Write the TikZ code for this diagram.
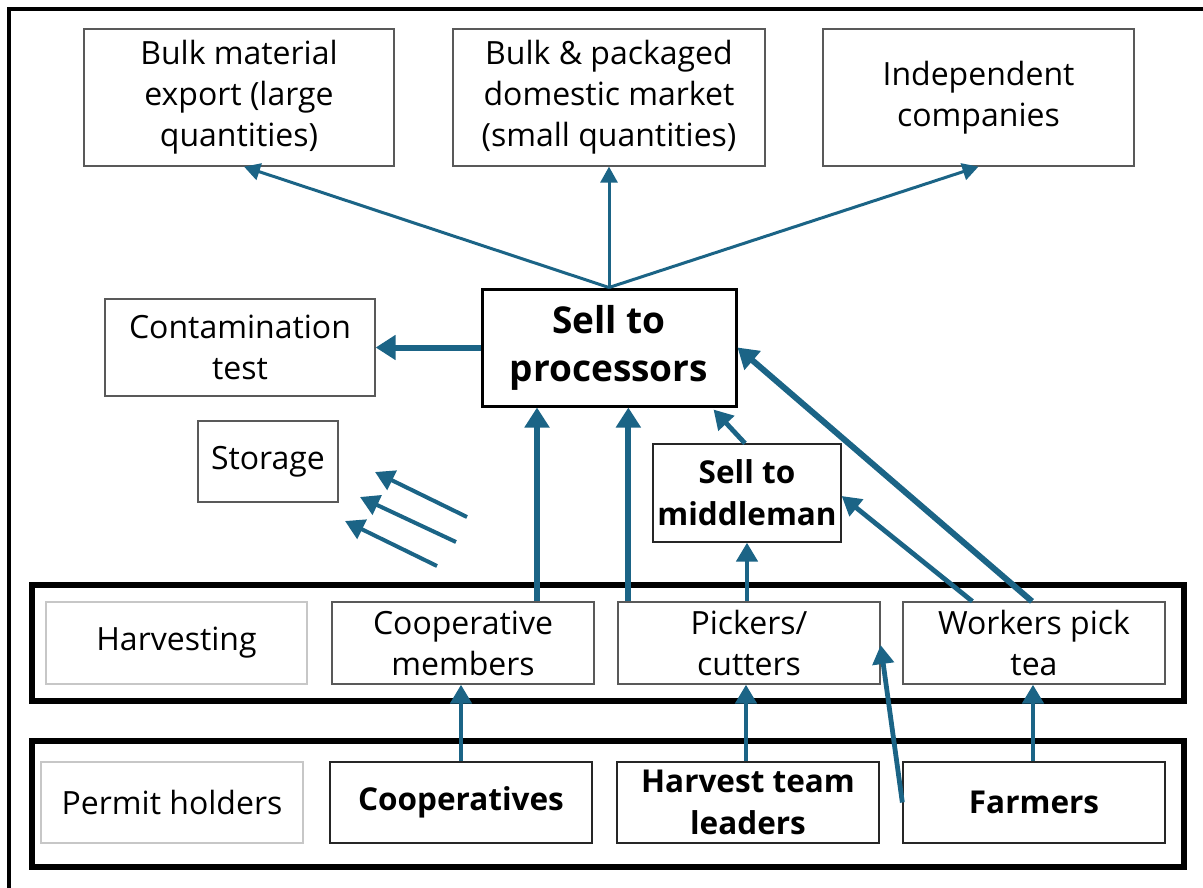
\documentclass[tikz,border=0pt]{standalone}
\usepackage{fontspec}
\setmainfont{Open Sans}
\usetikzlibrary{arrows.meta}
\definecolor{flowblue}{HTML}{1B6486}

\begin{document}
\begin{tikzpicture}[x=1pt, y=-1pt,
    box/.style={draw=black!65, line width=1.3pt, align=center, inner sep=0pt,
      minimum width=262pt, minimum height=82pt, font=\fontsize{32}{41}\selectfont},
    boldbox/.style={box, draw=black!85, font=\bfseries\fontsize{31.5}{42}\selectfont},
    labelbox/.style={box, draw=black!22},
    bandbox/.style={draw=black, line width=6pt, minimum width=1152pt, inner sep=0pt},
    thinarrow/.style={draw=flowblue, line width=3pt, -{Triangle[length=16pt,width=17pt]}},
    midarrow/.style={draw=flowblue, line width=4.8pt, -{Triangle[length=19pt,width=21pt]}},
    thickarrow/.style={draw=flowblue, line width=6pt, -{Triangle[length=20pt,width=24pt]}}]
    \useasboundingbox (0,0) rectangle (1203,888);
    \draw[line width=4pt] (9,900) -- (9,9) -- (1215,9);

    \node[box, minimum width=310pt, minimum height=137pt] (export) at (239,97.5) {Bulk material\\export (large\\quantities)};
    \node[box, minimum width=312pt, minimum height=137pt] (domestic) at (609,97.5) {Bulk \& packaged\\domestic market\\(small quantities)};
    \node[box, minimum width=311pt, minimum height=137pt] (independent) at (978.5,97.5) {Independent\\companies};
    \node[box, minimum width=270pt, minimum height=97pt] (contam) at (240,347.5) {Contamination\\test};
    \node[boldbox, draw=black, line width=3pt, minimum width=254pt, minimum height=117pt,
      font=\bfseries\fontsize{37}{48}\selectfont] (processors) at (609,347.5) {Sell to\\processors};
    \node[box, minimum width=140pt, minimum height=81pt] (storage) at (268,461.5) {Storage};
    \node[boldbox, minimum width=188pt, minimum height=98pt] (middleman) at (747,493) {Sell to\\middleman};

    \node[bandbox, minimum height=116pt] (harvestband) at (608,643) {};
    \node[bandbox, minimum height=126pt] (permitband) at (608,804) {};

    \node[labelbox, minimum width=261pt] (harvesting) at (176.5,643) {Harvesting};
    \node[box] (members) at (463,643) {Cooperative\\members};
    \node[box] (pickers) at (749,643) {Pickers/\\cutters};
    \node[box] (workers) at (1034,643) {Workers pick\\tea};
    \node[labelbox, minimum height=81pt] (permit) at (172,802.5) {Permit holders};
    \node[boldbox, minimum height=81pt] (coops) at (461,802.5) {Cooperatives};
    \node[boldbox, minimum height=81pt] (leaders) at (748,802.5) {Harvest team\\leaders};
    \node[boldbox, minimum height=81pt] (farmers) at (1034,802.5) {Farmers};

    \draw[thinarrow] (processors.north) -- ([xshift=5pt]export.south);
    \draw[thinarrow] (processors.north) -- (domestic.south);
    \draw[thinarrow] (processors.north) -- (independent.south);
    \draw[thickarrow] (processors.west) -- (contam.east);
    \draw[thickarrow] ([xshift=74pt]members.north) -- ([xshift=74pt]members.north |- processors.south);
    \draw[thickarrow] ([xshift=11pt]pickers.north west) -- ([xshift=11pt]pickers.north west |- processors.south);
    \draw[midarrow] ([xshift=-2pt]middleman.north) -- ([xshift=-24pt,yshift=-2pt]processors.south east);
    \draw[midarrow] ([xshift=-2pt]pickers.north) -- ([xshift=-2pt]pickers.north |- middleman.south);
    \draw[midarrow] ([xshift=70pt]workers.north west) -- ([yshift=-3pt]middleman.east);
    \draw[thickarrow] ([xshift=-2pt]workers.north) -- (processors.east);
    \draw[midarrow] (coops.north) -- (coops.north |- members.south);
    \draw[midarrow] ([xshift=-2pt]leaders.north) -- ([xshift=-2pt]leaders.north |- pickers.south);
    \draw[midarrow] ([xshift=-1pt]farmers.north) -- ([xshift=-1pt]farmers.north |- workers.south);
    \draw[midarrow] (farmers.west) -- ([yshift=-2pt]pickers.east);

    \coordinate (s1) at (467,517);
    \coordinate (t1) at (375,472);
    \coordinate (s2) at (456,542);
    \coordinate (t2) at (360,497);
    \coordinate (s3) at (437,566);
    \coordinate (t3) at (345,521);
    \draw[midarrow, line width=4pt] (s1) -- (t1);
    \draw[midarrow, line width=4pt] (s2) -- (t2);
    \draw[midarrow, line width=4pt] (s3) -- (t3);
  \end{tikzpicture}
\end{document}
